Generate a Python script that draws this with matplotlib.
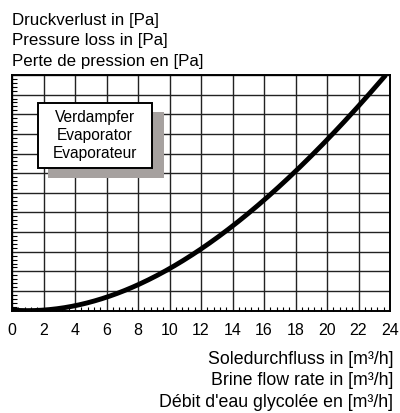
import matplotlib
matplotlib.use("Agg")
import matplotlib.pyplot as plt
import numpy as np
from matplotlib.patches import Rectangle
from matplotlib.ticker import MultipleLocator

plt.rcParams['font.family'] = ['Liberation Sans', 'DejaVu Sans']

# Data (y in grid units, 12 divisions)
flow = [0, 2, 4, 6, 8, 10, 12, 14, 16, 18, 20, 22, 23.73]
loss = [0, 0.05, 0.33, 0.68, 1.22, 2.2, 3.1, 4.29, 5.73, 7.05, 8.71, 10.41, 12.0]
xticks = [0, 2, 4, 6, 8, 10, 12, 14, 16, 18, 20, 22, 24]
ylabel_lines = ["Druckverlust in [Pa]", "Pressure loss in [Pa]", "Perte de pression en [Pa]"]
xlabel_lines = ["Soledurchfluss in [m³/h]", "Brine flow rate in [m³/h]", "Débit d'eau glycolée en [m³/h]"]
box_lines = ["Verdampfer", "Evaporator", "Evaporateur"]

W, H = 400, 413
fig = plt.figure(figsize=(4.0, 4.13), dpi=100)
ax = fig.add_axes([12 / W, 1 - 310.7 / H, 378 / W, 235.7 / H])
ax.set_xlim(0, 24)
ax.set_ylim(0, 12)

ax.set_xticks(xticks)
ax.set_xticklabels([str(t) for t in xticks], fontsize=11.5)
ax.set_yticks(np.arange(0, 13, 1))
ax.set_yticklabels([])
ax.xaxis.set_minor_locator(MultipleLocator(0.4))
ax.yaxis.set_minor_locator(MultipleLocator(0.2))
ax.tick_params(axis='x', which='major', length=0, pad=9)
ax.tick_params(axis='y', which='major', length=0)
ax.tick_params(axis='x', which='minor', direction='in', length=3, width=0.8, top=False)
ax.tick_params(axis='y', which='minor', direction='in', length=3.5, width=0.8, right=False)
ax.grid(True, which='major', color='#222222', linewidth=1.0)
for s in ax.spines.values():
    s.set_linewidth(1.4)
    s.set_color('black')

# smooth curve through read points
xs = np.array(flow)
ys = np.array(loss)
xf = np.linspace(xs[0], xs[-1], 300)
coef = np.polyfit(xs, ys, 3)
yf = np.clip(np.polyval(coef, xf), 0, None)
ax.plot(xf, yf, color='black', linewidth=3.5, solid_capstyle='butt', zorder=5)

# box with shadow (figure pixel coords)
def fx(px):
    return px / W
def fy(py):
    return 1 - py / H
shadow = Rectangle((fx(48.3), fy(178.3)), fx(164) - fx(48.3), fy(111.7) - fy(178.3),
                   transform=fig.transFigure, facecolor='#a6a19f', edgecolor='none', zorder=10)
box = Rectangle((fx(37.5), fy(168.5)), fx(152) - fx(37.5), fy(103) - fy(168.5),
                transform=fig.transFigure, facecolor='white', edgecolor='black', linewidth=1.4, zorder=11)
fig.patches.extend([shadow, box])
for i, t in enumerate(box_lines):
    fig.text(fx(95), fy(122.3 + i * 18), t, ha='center', va='baseline', fontsize=11.2, zorder=12)

for i, t in enumerate(ylabel_lines):
    fig.text(fx(12), fy(25 + i * 20.5), t, ha='left', va='baseline', fontsize=12.2)
for i, t in enumerate(xlabel_lines):
    fig.text(fx(393), fy(364 + i * 21.3), t, ha='right', va='baseline', fontsize=12.8)

fig.savefig("out.png", dpi=100)
